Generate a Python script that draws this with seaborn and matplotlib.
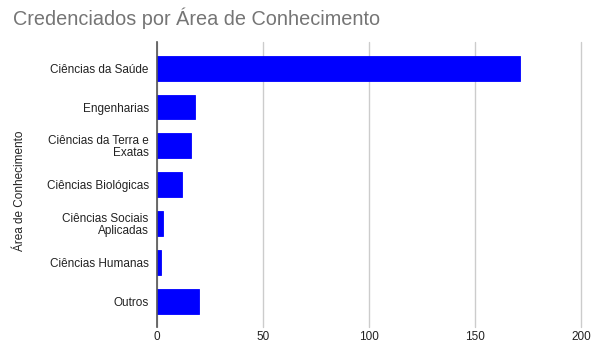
import matplotlib
matplotlib.use("Agg")
import matplotlib.pyplot as plt
import seaborn as sns
import pandas as pd

categories = [
    "Ciências da Saúde",
    "Engenharias",
    "Ciências da Terra e\nExatas",
    "Ciências Biológicas",
    "Ciências Sociais\nAplicadas",
    "Ciências Humanas",
    "Outros",
]
credenciados = [171, 18, 16, 12, 3, 2, 20]
x_ticks = [0, 50, 100, 150, 200]

df = pd.DataFrame({"area": categories, "valor": credenciados})

sns.set_theme(style="white")
plt.rcParams["font.family"] = ["Liberation Sans", "DejaVu Sans"]

fig = plt.figure(figsize=(5.98, 3.45), dpi=100)
ax_w = 581.3 - 157
ax_h = 326.7 - 41.7
ax = fig.add_axes([157 / 598, 1 - 326.7 / 345, ax_w / 598, ax_h / 345])

sns.barplot(data=df, x="valor", y="area", color="#0000ff", saturation=1,
            width=0.64, ax=ax, edgecolor="#0000ff", linewidth=0.6)

ax.set_xlim(0, 200)
ax.set_ylim(6.65, -0.68)
ax.set_xticks(x_ticks)
ax.set_xticklabels([str(t) for t in x_ticks])
ax.xaxis.grid(True, color="#cccccc", linewidth=1)
for gl in ax.get_xgridlines():
    gl.set_clip_on(False)
ax.set_axisbelow(True)

for side in ["top", "right", "bottom"]:
    ax.spines[side].set_visible(False)
ax.spines["left"].set_color("#555555")
ax.spines["left"].set_linewidth(1.2)
ax.spines["left"].set_zorder(5)

ax.tick_params(axis="both", length=0, labelsize=8.5, colors="#222222")
ax.tick_params(axis="x", pad=3)
ax.tick_params(axis="y", pad=6)
for lab in ax.get_yticklabels():
    lab.set_horizontalalignment("right")
    lab.set_multialignment("right")
    lab.set_linespacing(1.0)

ax.set_xlabel("")
ax.set_ylabel("Área de Conhecimento", fontsize=8.5, color="#222222")
ax.yaxis.set_label_coords((26 - 157) / ax_w, 0.5 - 7 / ax_h)

fig.text(13 / 598, 1 - 18 / 345, "Credenciados por Área de Conhecimento",
         fontsize=14.3, color="#757575", va="center", ha="left")

fig.savefig("out.png", dpi=100)
